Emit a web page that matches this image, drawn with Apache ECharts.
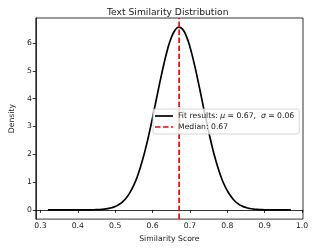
<!DOCTYPE html>
<html>
<head>
<meta charset="utf-8">
<script src="https://cdn.jsdelivr.net/npm/echarts@6/dist/echarts.min.js"></script>
<style>html,body{margin:0;padding:0;background:#fff}#c{width:312px;height:248px}</style>
</head>
<body>
<div id="c"></div>
<script>
const titleText = 'Text Similarity Distribution';
const xLabel = 'Similarity Score';
const yLabel = 'Density';
const fitName = 'Fit results: μ = 0.67,  σ = 0.06';
const medianName = 'Median: 0.67';
const medianValue = 0.671;
const xTicks = [0.3, 0.4, 0.5, 0.6, 0.7, 0.8, 0.9, 1.0];
const yTicks = [0, 1, 2, 3, 4, 5, 6];
const scores = [0.32,0.33,0.34,0.35,0.36,0.37,0.38,0.39,0.40,0.41,0.42,0.43,0.44,0.45,0.46,0.47,0.48,0.49,0.50,0.51,0.52,0.53,0.54,0.55,0.56,0.57,0.58,0.59,0.60,0.61,0.62,0.63,0.64,0.65,0.66,0.67,0.68,0.69,0.70,0.71,0.72,0.73,0.74,0.75,0.76,0.77,0.78,0.79,0.80,0.81,0.82,0.83,0.84,0.85,0.86,0.87,0.88,0.89,0.90,0.91,0.92,0.93,0.94,0.95,0.96,0.97];
const density = [0,0,0,0,0,0,0,0,0,0.001,0.001,0.003,0.005,0.009,0.016,0.027,0.047,0.077,0.124,0.195,0.30,0.44,0.64,0.90,1.23,1.65,2.14,2.70,3.32,3.97,4.62,5.23,5.77,6.19,6.46,6.57,6.50,6.26,5.86,5.34,4.74,4.10,3.44,2.82,2.24,1.74,1.31,0.96,0.69,0.48,0.32,0.21,0.136,0.085,0.052,0.030,0.017,0.010,0.005,0.003,0.001,0.001,0,0,0,0];

const xMin = 0.2875, xMax = 1.0025, yMin = -0.33, yMax = 6.9;
const font = 'DejaVu Sans';
const textColor = '#1a1a1a';
const solidIcon = 'path://M0,0H18V1.7H0Z';
const dashedIcon = 'path://M0,0H5.5V1.7H0Z M8,0H13.5V1.7H8Z M16,0H18V1.7H16Z';
const chart = echarts.init(document.getElementById('c'), null, {renderer: 'canvas'});
chart.setOption({
  animation: false,
  title: {
    text: titleText, left: 102, top: 3,
    textStyle: {fontFamily: font, fontSize: 9.2, fontWeight: 'normal', color: textColor}
  },
  grid: {left: 26, right: 9, top: 18, bottom: 28, show: true, borderColor: '#000', borderWidth: 0.8, backgroundColor: 'transparent'},
  legend: {
    orient: 'vertical', left: 153, top: 109,
    itemWidth: 18, itemHeight: 1.7, itemGap: 3,
    padding: [3, 5, 3, 2],
    backgroundColor: 'rgba(255,255,255,0.8)', borderColor: '#cccccc', borderWidth: 0.8, borderRadius: 2,
    textStyle: {fontFamily: font, fontSize: 7.7, color: textColor, rich: {i: {fontFamily: font, fontSize: 7.7, fontStyle: 'italic', color: textColor}}},
    formatter: n => n.replace('μ', '{i|μ}').replace('σ', '{i|σ}'),
    data: [
      {name: fitName, icon: solidIcon, itemStyle: {color: '#000'}},
      {name: medianName, icon: dashedIcon, itemStyle: {color: '#ff0000'}}
    ]
  },
  xAxis: {
    type: 'value', min: xMin, max: xMax,
    name: xLabel, nameLocation: 'middle', nameGap: 15,
    nameTextStyle: {fontFamily: font, fontSize: 7.7, color: textColor},
    axisLine: {show: true, lineStyle: {color: '#000', width: 0.8}},
    axisTick: {show: true, length: 3, lineStyle: {color: '#000', width: 0.8}, customValues: xTicks},
    axisLabel: {fontFamily: font, fontSize: 7.7, color: textColor, margin: 3, customValues: xTicks, formatter: v => v.toFixed(1)},
    splitLine: {show: false}
  },
  yAxis: {
    type: 'value', min: yMin, max: yMax,
    name: yLabel, nameLocation: 'middle', nameGap: 17,
    nameTextStyle: {fontFamily: font, fontSize: 7.7, color: textColor},
    axisLine: {show: true, lineStyle: {color: '#000', width: 0.8}},
    axisTick: {show: true, length: 3, lineStyle: {color: '#000', width: 0.8}, customValues: yTicks},
    axisLabel: {fontFamily: font, fontSize: 7.7, color: textColor, margin: 4, customValues: yTicks, formatter: v => String(v)},
    splitLine: {show: false}
  },
  series: [
    {
      name: fitName, type: 'line', showSymbol: false, symbol: 'none', smooth: true,
      data: scores.map((s, i) => [s, density[i]]),
      lineStyle: {color: '#000', width: 1.7}, itemStyle: {color: '#000'}
    },
    {
      name: medianName, type: 'line', showSymbol: false, symbol: 'none',
      data: [[medianValue, yMin], [medianValue, yMax]],
      lineStyle: {color: '#ff0000', width: 1.7, type: [5.5, 2.5]}, itemStyle: {color: '#ff0000'}
    }
  ]
});
</script>
</body>
</html>
